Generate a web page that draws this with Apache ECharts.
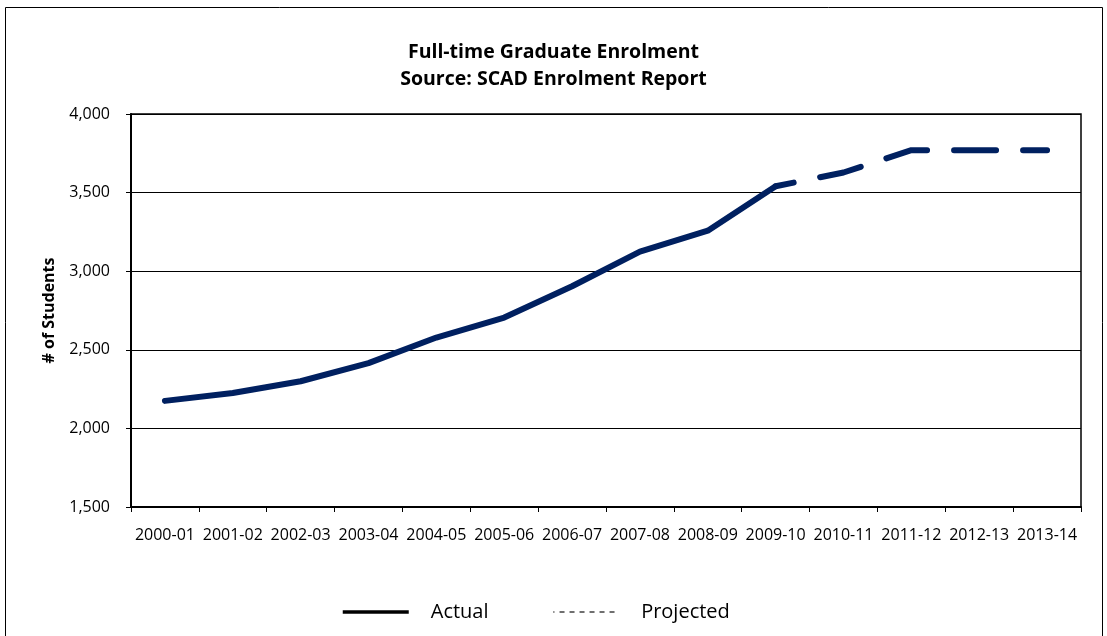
<!DOCTYPE html>
<html>
<head>
<meta charset="utf-8">
<title>Full-time Graduate Enrolment</title>
<script src="https://cdn.jsdelivr.net/npm/echarts@6/dist/echarts.min.js"></script>
<style>
  html, body { margin: 0; padding: 0; background: #fff; }
  #chart { width: 1107px; height: 636px; }
</style>
</head>
<body>
<div id="chart"></div>
<script>
// Academic years on the category axis
const years = ['2000-01', '2001-02', '2002-03', '2003-04', '2004-05', '2005-06', '2006-07',
               '2007-08', '2008-09', '2009-10', '2010-11', '2011-12', '2012-13', '2013-14'];

// Reported full-time graduate headcount (2000-01 to 2009-10)
const actual = [2175, 2225, 2300, 2415, 2578, 2705, 2904, 3125, 3258, 3540];

// Projection, starting from the last reported year
const projected = [null, null, null, null, null, null, null, null, null,
                   3540, 3628, 3770, 3770, 3770];

// Value axis range and step
const yMin = 1500, yMax = 4000, yStep = 500;

const FONT = '"Open Sans", "Noto Sans", sans-serif';
const LINE_COLOR = '#002060';

const chart = echarts.init(document.getElementById('chart'), null, { renderer: 'canvas' });

// Legend entries show only the line sample, no point marker
const hiddenMarker = { color: 'transparent', opacity: 0, borderWidth: 0 };

chart.setOption({
  backgroundColor: '#ffffff',
  animation: false,
  title: {
    text: 'Full-time Graduate Enrolment\nSource: SCAD Enrolment Report',
    left: 'center',
    top: 34,
    textStyle: {
      fontFamily: FONT,
      fontWeight: 'bold',
      fontSize: 19.5,
      lineHeight: 27,
      color: '#000'
    }
  },
  graphic: [{
    type: 'rect',
    shape: { x: 5.5, y: 7.5, width: 1097, height: 650 },
    style: { fill: 'none', stroke: '#000', lineWidth: 1 },
    silent: true
  }],
  grid: {
    left: 131,
    right: 26,
    top: 114,
    bottom: 129,
    show: true,
    borderColor: '#000',
    borderWidth: 1.5,
    backgroundColor: 'transparent'
  },
  legend: {
    left: 341,
    top: 602,
    padding: 0,
    itemWidth: 66,
    itemHeight: 14,
    itemGap: 64,
    textStyle: {
      fontFamily: FONT,
      fontSize: 20,
      color: '#000',
      padding: [0, 0, 0, 17]
    },
    data: [
      { name: 'Actual', itemStyle: hiddenMarker,
        lineStyle: { color: '#000', width: 3.5, type: 'solid', cap: 'butt' } },
      { name: 'Projected', itemStyle: hiddenMarker,
        lineStyle: { color: '#111', width: 1.2, type: [5, 5], cap: 'butt' } }
    ]
  },
  xAxis: {
    type: 'category',
    data: years,
    boundaryGap: true,
    axisLine: { show: true, lineStyle: { color: '#000', width: 2 } },
    axisTick: { show: true, alignWithLabel: false, length: 5, lineStyle: { color: '#000', width: 1 } },
    axisLabel: { fontFamily: FONT, fontSize: 16, color: '#000', margin: 20, interval: 0 },
    splitLine: { show: false }
  },
  yAxis: {
    type: 'value',
    min: yMin,
    max: yMax,
    interval: yStep,
    name: '# of Students',
    nameLocation: 'middle',
    nameGap: 74,
    nameRotate: 90,
    nameMoveOverlap: false,
    nameTextStyle: { fontFamily: FONT, fontWeight: 'bold', fontSize: 16, color: '#000' },
    axisLine: { show: true, lineStyle: { color: '#000', width: 2 } },
    axisTick: { show: true, length: 5, lineStyle: { color: '#000', width: 1 } },
    axisLabel: {
      fontFamily: FONT, fontSize: 16, color: '#000', margin: 21,
      formatter: v => v.toLocaleString('en-US')
    },
    splitLine: { show: true, lineStyle: { color: '#000', width: 1 } }
  },
  series: [
    {
      name: 'Actual',
      type: 'line',
      data: actual,
      symbol: 'none',
      smooth: false,
      z: 3,
      lineStyle: { color: LINE_COLOR, width: 6, cap: 'round', join: 'round' },
      itemStyle: { color: LINE_COLOR }
    },
    {
      name: 'Projected',
      type: 'line',
      data: projected,
      symbol: 'none',
      smooth: false,
      z: 2,
      lineStyle: {
        color: LINE_COLOR, width: 6, type: [42, 27], dashOffset: 23.6,
        cap: 'round', join: 'round'
      },
      itemStyle: { color: LINE_COLOR }
    }
  ]
});
</script>
</body>
</html>
